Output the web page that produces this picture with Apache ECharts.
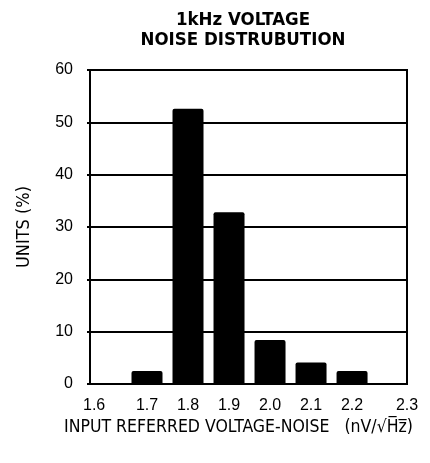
<!DOCTYPE html>
<html><head><meta charset="utf-8">
<script src="https://cdn.jsdelivr.net/npm/echarts@6/dist/echarts.min.js"></script>
<style>html,body{margin:0;padding:0;background:#fff;}#c{width:430px;height:463px;}</style>
</head><body><div id="c"></div>
<script>
var barCenters = [1.7, 1.8, 1.9, 2.0, 2.1, 2.2];
var unitsPct = [2.5, 52.6, 32.8, 8.4, 4.1, 2.5];
var xTickLabels = ['1.6', '1.7', '1.8', '1.9', '2.0', '2.1', '2.2', '2.3'];
var yTickLabels = ['0', '10', '20', '30', '40', '50', '60'];

var X_MIN = 1.561, X_MAX = 2.334;
var labelPos = xTickLabels.map(function (t, i) {
  if (i === 0) return X_MIN + 0.01;
  if (i === xTickLabels.length - 1) return X_MAX;
  return parseFloat(t);
});
var labelMap = {};
labelPos.forEach(function (p, i) { labelMap[p.toFixed(3)] = xTickLabels[i]; });

var COND = 'DejaVu Sans Condensed';
var chart = echarts.init(document.getElementById('c'), null, {renderer: 'canvas'});
chart.setOption({
  animation: false,
  backgroundColor: '#fff',
  title: {
    text: '1kHz VOLTAGE\nNOISE DISTRUBUTION',
    left: 238, top: 5, textAlign: 'center',
    textStyle: {fontFamily: COND, fontWeight: 'bold', fontSize: 18.5, lineHeight: 20, color: '#000'}
  },
  grid: {left: 90, right: 23, top: 70, bottom: 79, show: true, borderColor: '#000', borderWidth: 2, backgroundColor: 'transparent'},
  xAxis: {
    type: 'value', min: X_MIN, max: X_MAX,
    name: '{a|INPUT REFERRED VOLTAGE-NOISE   (nV/\u221A}{a|H\u0305z\u0305}{a|)}',
    nameLocation: 'middle', nameGap: 31,
    nameTextStyle: {color: '#000', padding: [0, 0, 0, -20],
      rich: {a: {fontFamily: COND, fontSize: 17.5, color: '#000'}}},
    axisLine: {show: true, lineStyle: {color: '#000', width: 2}},
    axisTick: {show: false},
    splitLine: {show: false},
    axisLabel: {
      customValues: labelPos,
      formatter: function (v) { return labelMap[v.toFixed(3)] || ''; },
      fontFamily: 'Liberation Sans', fontSize: 16, color: '#000', margin: 14
    }
  },
  yAxis: {
    type: 'value', min: 0, max: 60, interval: 10,
    name: 'UNITS (%)', nameLocation: 'middle', nameGap: 51, nameRotate: 90,
    nameTextStyle: {fontFamily: COND, fontSize: 18, color: '#000', padding: [0, 0, 6, 0]},
    axisLine: {show: true, lineStyle: {color: '#000', width: 2}},
    axisTick: {show: true, length: 3, lineStyle: {color: '#000', width: 2}},
    splitLine: {show: true, lineStyle: {color: '#000', width: 2}},
    axisLabel: {
      formatter: function (v) { return yTickLabels[Math.round(v / 10)]; },
      fontFamily: 'Liberation Sans', fontSize: 16, color: '#000', margin: 17
    }
  },
  series: [{
    type: 'bar',
    data: barCenters.map(function (x, i) { return [x, unitsPct[i]]; }),
    barWidth: 31,
    itemStyle: {color: '#000', borderRadius: [2, 2, 0, 0]}
  }]
});
</script></body></html>
